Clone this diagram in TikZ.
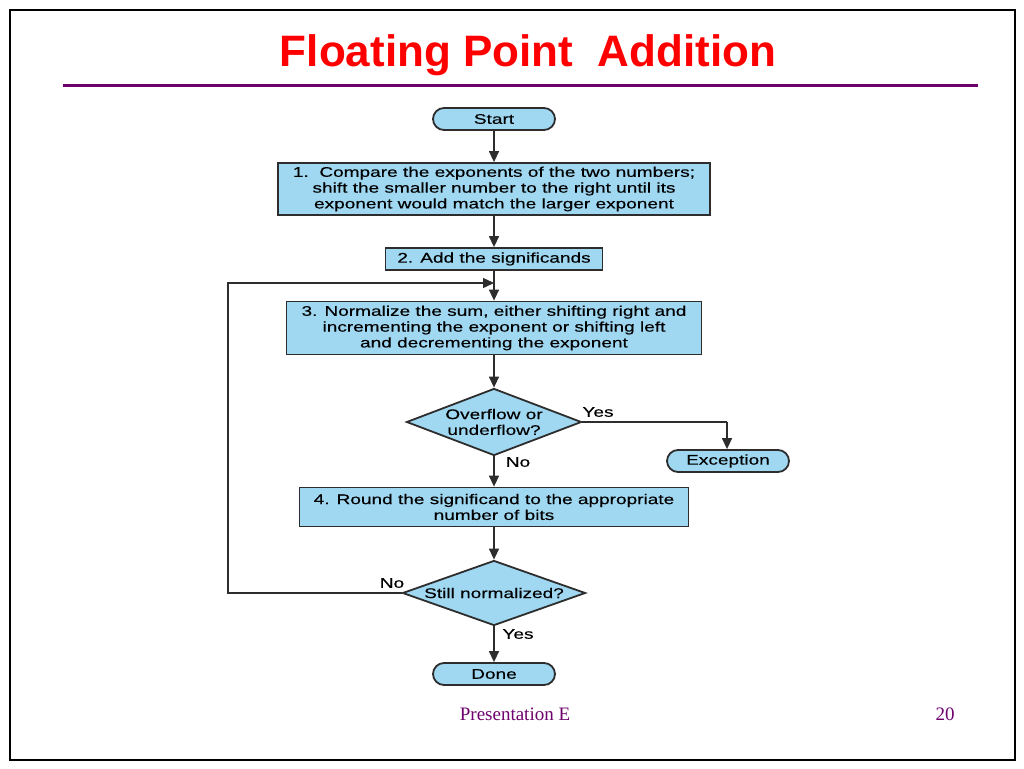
\documentclass[tikz,border=0pt]{standalone}
\usepackage{fontspec}
\setmainfont{Liberation Serif}
\newfontfamily\fcfont[FakeStretch=1.36,FakeBold=0.3]{Liberation Sans}
\newfontfamily\titlefont{Liberation Sans}
\usetikzlibrary{shapes.geometric,arrows.meta}
\definecolor{fcblue}{RGB}{160,216,242}
\definecolor{fcline}{RGB}{45,45,45}
\definecolor{slidepurple}{RGB}{110,0,110}
\tikzset{
  base/.style={draw=fcline, line width=1.8pt, fill=fcblue, inner sep=0pt, align=center,
    font=\fcfont\fontsize{14}{15.8}\selectfont},
  procbox/.style={base, rectangle},
  termbox/.style={base, rectangle, rounded corners=11pt, minimum width=122pt, minimum height=22pt},
  decbox/.style={base, diamond, aspect=2.65},
  conn/.style={draw=fcline, line width=1.4pt},
  arr/.style={conn, -{Triangle[length=11pt,width=10pt]}},
  lbl/.style={font=\fcfont\fontsize{14}{15.8}\selectfont, inner sep=0pt}
}
\begin{document}
\begin{tikzpicture}[x=1pt,y=-1pt]
\useasboundingbox (0,0) rectangle (1024,768);
\draw[line width=2pt, black] (10,10) rectangle (1015,760);
\node[font=\titlefont\bfseries\fontsize{44}{50}\selectfont, text=red] (title) at (528,55) {Floating Point\ \ Addition};
\draw[slidepurple, line width=3pt] (63,85) -- (978,85);
\node[text=slidepurple, font=\fontsize{19}{22}\selectfont] (footer) at (515,714) {Presentation E};
\node[text=slidepurple, font=\fontsize{19}{22}\selectfont] (pagenum) at (945,714) {20};

\node[termbox] (start) at (494,119) {Start};
\node[procbox, minimum width=432pt, minimum height=52pt] (s1) at (494,189)
  {1.\ \ Compare the exponents of the two numbers;\\shift the smaller number to the right until its\\exponent would match the larger exponent};
\node[procbox, minimum width=217pt, minimum height=22pt] (s2) at (494,259) {2. Add the significands};
\node[procbox, minimum width=415pt, minimum height=53pt] (s3) at (494,328)
  {3. Normalize the sum, either shifting right and\\incrementing the exponent or shifting left\\and decrementing the exponent};
\node[decbox, minimum width=175pt, minimum height=67pt] (d1) at (494,422) {Overflow or\\underflow?};
\node[termbox] (exc) at (728,461) {Exception};
\node[procbox, minimum width=389pt, minimum height=39pt] (s4) at (494,507)
  {4. Round the significand to the appropriate\\number of bits};
\node[decbox, minimum width=183pt, minimum height=65pt] (d2) at (494,593) {Still normalized?};
\node[termbox] (done) at (494,674) {Done};

\coordinate (j) at (494,283);
\coordinate (lb) at (228,593);
\coordinate (lt) at (228,283);
\coordinate (yc) at (727,422);

\draw[arr] (start) -- (s1);
\draw[arr] (s1) -- (s2);
\draw[arr] (s2) -- (s3);
\draw[arr] (s3) -- (d1);
\draw[conn] (d1.east) -- (yc);
\draw[arr] (yc) -- (yc |- exc.north);
\draw[arr] (d1) -- (s4);
\draw[arr] (s4) -- (d2);
\draw[arr] (d2) -- (done);
\draw[arr] (d2.west) -- (lb) -- (lt) -- (j);

\node[lbl] (yes1) at (598,412) {Yes};
\node[lbl] (no1) at (518,462) {No};
\node[lbl] (no2) at (392,583) {No};
\node[lbl] (yes2) at (518,634) {Yes};
\end{tikzpicture}
\end{document}
